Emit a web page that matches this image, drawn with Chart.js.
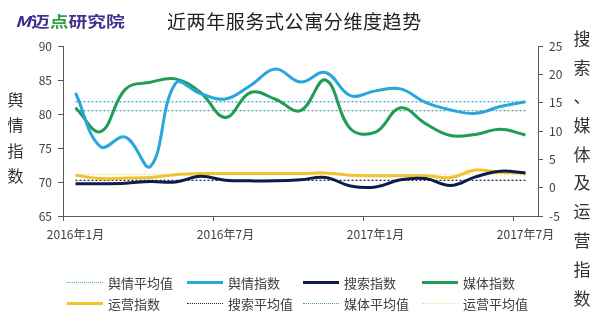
<!DOCTYPE html>
<html><head><meta charset="utf-8">
<script src="https://cdn.jsdelivr.net/npm/chart.js@4.4.1/dist/chart.umd.min.js"></script>
<style>
html,body{margin:0;padding:0;background:#fff;}
#wrap{position:relative;width:600px;height:332px;overflow:hidden;font-family:"Noto Sans CJK SC",sans-serif;color:#333;}
canvas{position:absolute;left:0;top:0;}
.logo{position:absolute;left:15px;top:11px;font-size:15px;font-weight:bold;color:#43318f;line-height:20px;white-space:nowrap;transform:scaleX(1.25);transform-origin:left center;}
.logo .m{font-style:italic;color:#3a2d8c;}
.logo .g{color:#2ea24e;}
.title{position:absolute;left:167px;top:9px;font-size:19px;letter-spacing:0.6px;line-height:24px;color:#222;white-space:nowrap;}
.vt{position:absolute;display:flex;flex-direction:column;align-items:center;color:#333;}
.vt span{display:block;text-align:center;}
.leg{position:absolute;display:flex;align-items:center;font-size:13px;color:#404040;white-space:nowrap;height:18px;}
.leg i{display:inline-block;width:36px;margin-right:5px;}
</style></head>
<body>
<div id="wrap">
<canvas id="c" width="600" height="332"></canvas>
<div class="logo"><span class="m">M</span>迈<span class="g">点</span>研究院</div>
<div class="title">近两年服务式公寓分维度趋势</div>
<div class="vt" id="ltitle" style="left:7px;top:87px;width:17px;font-size:16px;"></div>
<div class="vt" id="rtitle" style="left:573px;top:24px;width:18px;font-size:17px;"></div>
<div id="legend"></div>
</div>
<script>
// ---- data ----
const months = ['2016年1月','2016年2月','2016年3月','2016年4月','2016年5月','2016年6月','2016年7月','2016年8月','2016年9月','2016年10月','2016年11月','2016年12月','2017年1月','2017年2月','2017年3月','2017年4月','2017年5月','2017年6月','2017年7月'];
const shownLabels = ['2016年1月','2016年7月','2017年1月','2017年7月'];
const yuqing  = [83.1,75.2,76.6,72.3,84.5,83.0,82.2,84.2,86.6,84.7,86.1,82.7,83.4,83.7,81.7,80.6,80.1,81.1,81.8];
const sousuo  = [0.7,0.7,0.8,1.1,1.0,2.0,1.3,1.2,1.2,1.4,1.8,0.3,0.1,1.4,1.6,0.4,1.9,2.9,2.6];
const meiti   = [14.1,9.9,17.4,18.6,19.2,16.8,12.4,16.8,15.6,13.6,19.0,10.4,9.8,14.1,11.3,9.2,9.4,10.3,9.3];
const yunying = [2.2,1.6,1.7,1.8,2.3,2.5,2.5,2.5,2.5,2.5,2.6,2.2,2.1,2.1,2.1,1.8,3.1,2.7,2.6];
const yuqingAvg = 81.8;
const sousuoAvg = 1.3;
const meitiAvg = 13.6;
const yunyingAvg = 2.3;
const leftTicks = [65,70,75,80,85,90];
const rightTicks = [-5,0,5,10,15,20,25];
const leftTitle = '舆情指数';
const rightTitle = '搜索、媒体及运营指数';
const legendOrder = ['舆情平均值','舆情指数','搜索指数','媒体指数','运营指数','搜索平均值','媒体平均值','运营平均值'];

const axisColor = '#595959';
const C = {yuqing:'#29a6da', sousuo:'#0e1b4d', meiti:'#1f9c55', yunying:'#f0c330',
           yuqingAvg:'#4fb0da', sousuoAvg:'#1c2a5c', meitiAvg:'#4f9c9c', yunyingAvg:'#f3da8e'};

function solid(label, data, color, axis, order){
  return {label, data, yAxisID:axis, borderColor:color, backgroundColor:color, borderWidth:3, pointRadius:0, tension:0.4, fill:false, order};
}
function dotted(label, value, color, axis){
  return {label, data: months.map(() => value), yAxisID:axis, borderColor:color, backgroundColor:color, borderWidth:1.3, borderDash:[2,2], pointRadius:0, tension:0, fill:false, order:10, dotted:true};
}

const datasets = [
  dotted('舆情平均值', yuqingAvg, C.yuqingAvg, 'y'),
  solid('舆情指数', yuqing, C.yuqing, 'y', 2),
  solid('搜索指数', sousuo, C.sousuo, 'y1', 0),
  solid('媒体指数', meiti, C.meiti, 'y1', 3),
  solid('运营指数', yunying, C.yunying, 'y1', 1),
  dotted('搜索平均值', sousuoAvg, C.sousuoAvg, 'y1'),
  dotted('媒体平均值', meitiAvg, C.meitiAvg, 'y1'),
  dotted('运营平均值', yunyingAvg, C.yunyingAvg, 'y1'),
];

const tickFont = {family:'"Noto Sans CJK SC", sans-serif', size:12};

new Chart(document.getElementById('c'), {
  type:'line',
  data:{labels:months, datasets},
  options:{
    responsive:false, animation:false, devicePixelRatio:1,
    layout:{padding:{top:46,left:0,right:0,bottom:0}},
    plugins:{legend:{display:false}, tooltip:{enabled:false}, title:{display:false}},
    scales:{
      x:{
        offset:true,
        grid:{offset:true, drawOnChartArea:false, drawTicks:true, tickLength:5,
              color:(ctx)=> (ctx.index!==undefined && shownLabels.includes(months[ctx.index])) ? axisColor : 'rgba(0,0,0,0)'},
        border:{display:true, color:axisColor, width:1},
        ticks:{autoSkip:false, maxRotation:0, minRotation:0, padding:6, color:'#404040', font:tickFont,
               callback:function(v){ const l = this.getLabelForValue(v); return shownLabels.includes(l) ? l : ''; }},
        afterFit:(s)=>{ s.height = 116; }
      },
      y:{
        position:'left', min:leftTicks[0], max:leftTicks[leftTicks.length-1],
        ticks:{stepSize:leftTicks[1]-leftTicks[0], padding:6, color:'#404040', font:tickFont},
        grid:{drawOnChartArea:false, drawTicks:true, tickLength:5, color:axisColor},
        border:{display:true, color:axisColor, width:1},
        afterFit:(s)=>{ s.width = 63; }
      },
      y1:{
        position:'right', min:rightTicks[0], max:rightTicks[rightTicks.length-1],
        ticks:{stepSize:rightTicks[1]-rightTicks[0], padding:6, color:'#404040', font:tickFont},
        grid:{drawOnChartArea:false, drawTicks:true, tickLength:5, color:axisColor},
        border:{display:true, color:axisColor, width:1},
        afterFit:(s)=>{ s.width = 62; }
      }
    }
  }
});

// vertical axis titles
function vtitle(el, text, step){
  for (const ch of text){
    const s = document.createElement('span');
    s.textContent = ch; s.style.height = step+'px'; s.style.lineHeight = step+'px';
    el.appendChild(s);
  }
}
vtitle(document.getElementById('ltitle'), leftTitle, 25.3);
vtitle(document.getElementById('rtitle'), rightTitle, 28.9);

// legend in a 4-column grid
const legCols = [67,187,303,422];
const legRows = [282,303];
const lg = document.getElementById('legend');
legendOrder.forEach((name, k) => {
  const ds = datasets.find(d => d.label === name);
  const item = document.createElement('div');
  item.className = 'leg';
  item.style.left = legCols[k % 4] + 'px';
  item.style.top = (legRows[Math.floor(k / 4)] - 9) + 'px';
  const sw = document.createElement('i');
  if (ds.dotted){ sw.style.borderTop = '1.3px dotted ' + ds.borderColor; sw.style.height = '0'; }
  else { sw.style.height = '3px'; sw.style.background = ds.borderColor; }
  item.appendChild(sw);
  const t = document.createElement('span'); t.textContent = name; item.appendChild(t);
  lg.appendChild(item);
});
</script>
</body></html>
